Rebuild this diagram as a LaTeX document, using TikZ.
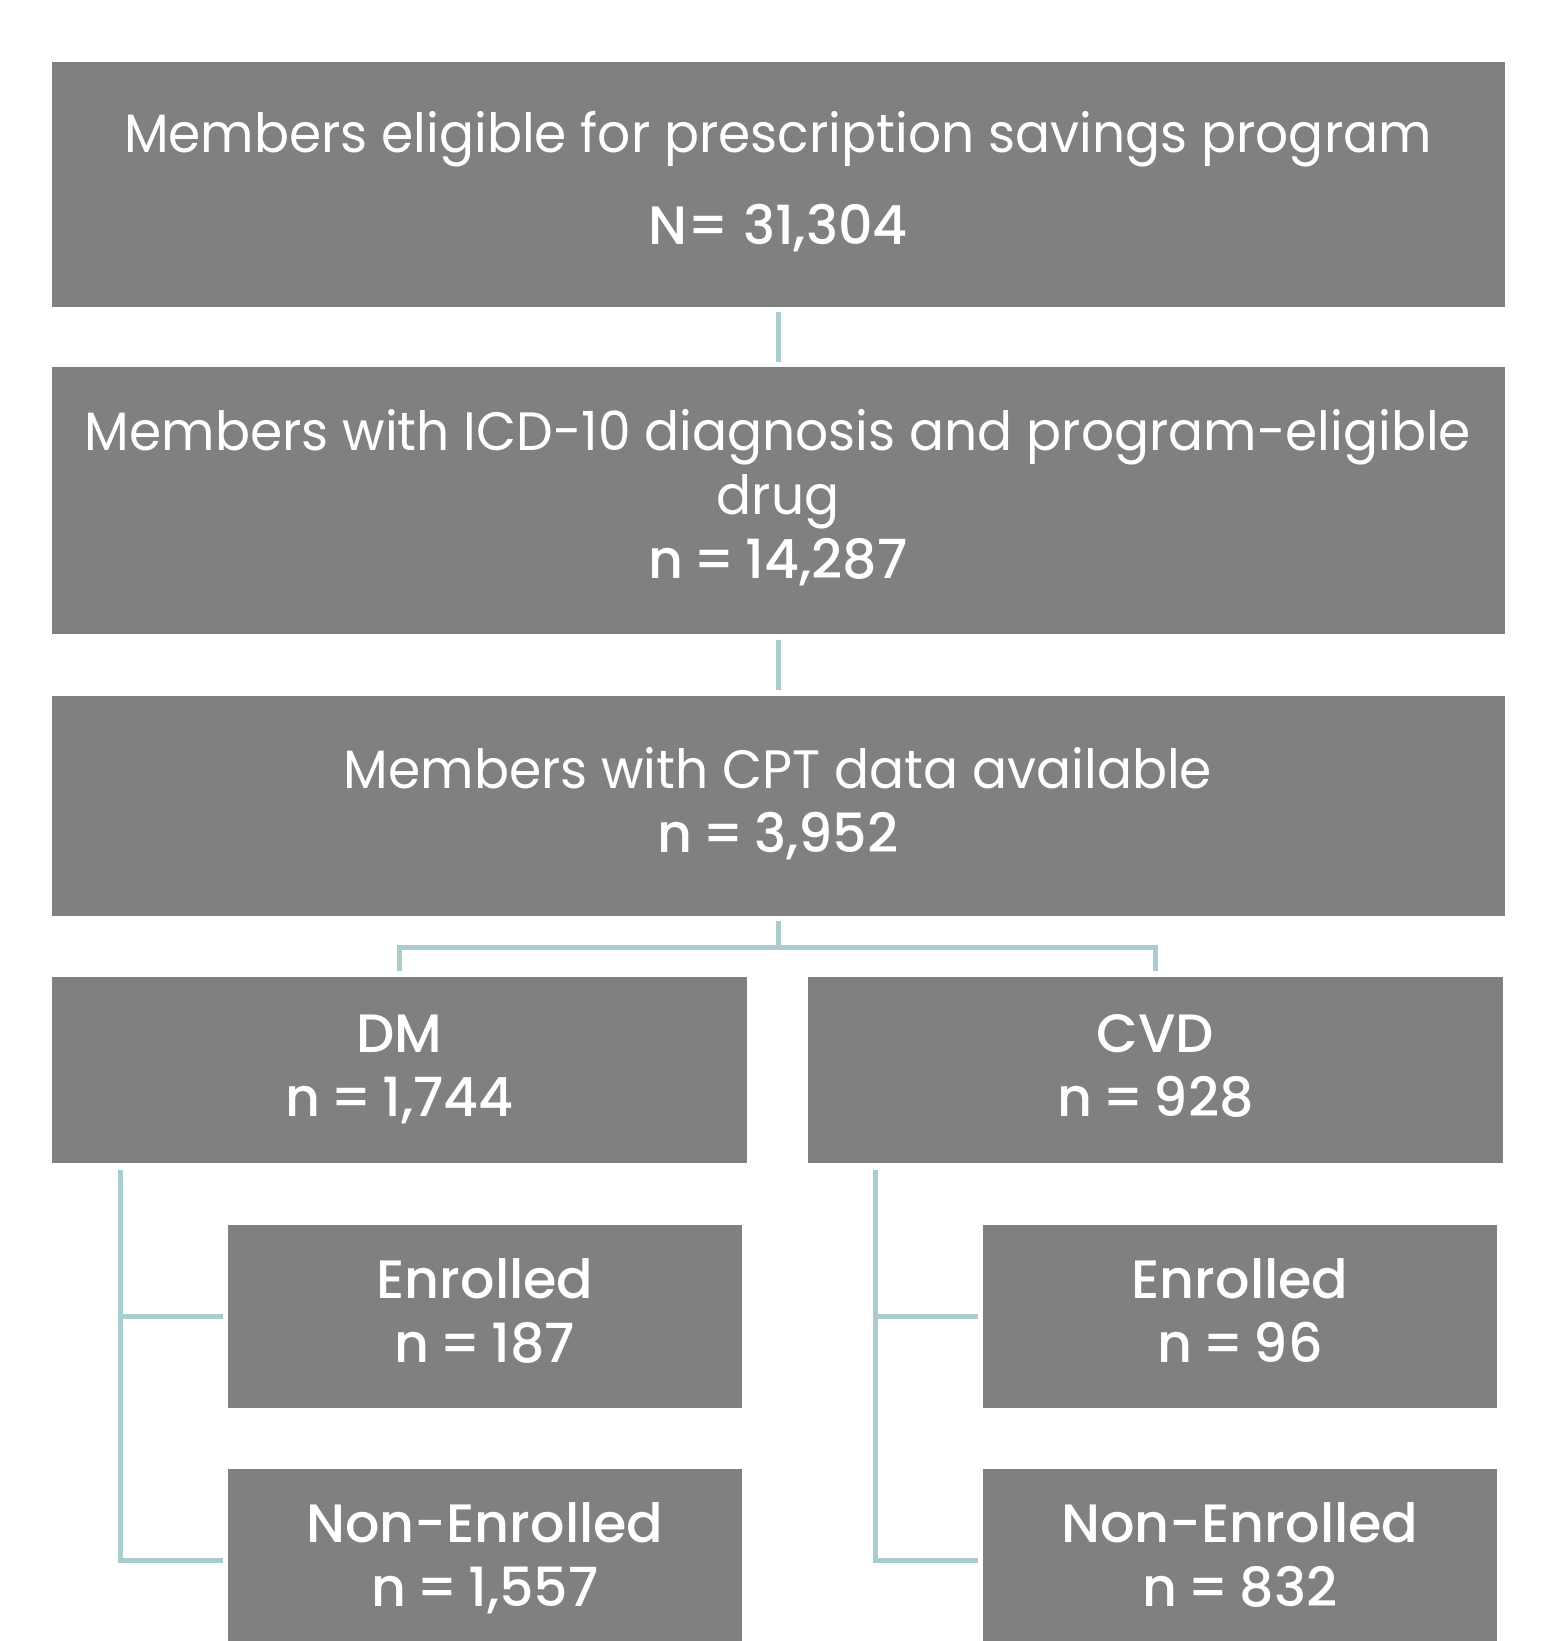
\documentclass[tikz,border=0pt]{standalone}
\usepackage{fontspec}
\setmainfont{Poppins}[UprightFeatures={FakeStretch=0.96}, BoldFont={Poppins Medium}, BoldFeatures={FakeStretch=1.0}]
\definecolor{boxgray}{HTML}{808080}
\definecolor{conncol}{HTML}{A9CDCF}
\newcommand\toprl{\rule{0pt}{50pt}}
\newcommand\botrl{\rule[-22pt]{0pt}{22pt}}
\newcommand\eqs{\hspace{10pt}=\hspace{10pt}}
\tikzset{
  box/.style={fill=boxgray, draw=none, text=white, align=center, inner sep=0pt,
    font=\fontsize{54}{64}\selectfont},
  conn/.style={draw=conncol, line width=5pt},
}
\begin{document}
\begin{tikzpicture}[x=1pt,y=-1pt]
\useasboundingbox (0,0) rectangle (1556,1641);
\clip (0,0) rectangle (1556,1641);
\node[box, minimum width=1453, minimum height=245] (b1) at (778,184.5)
  {\toprl Members eligible for prescription savings program\\[28pt]\textbf{N= 31,304}\botrl};
\node[box, minimum width=1453, minimum height=267] (b2) at (778,500.5)
  {\toprl Members with ICD-10 diagnosis and program-eligible\\drug\\\textbf{n\eqs 14,287}\botrl};
\node[box, minimum width=1453, minimum height=220] (b3) at (778,806)
  {\toprl Members with CPT data available\\\textbf{n\eqs 3,952}\botrl};
\node[box, minimum width=695, minimum height=186] (dm) at (399.5,1070)
  {\toprl\textbf{DM}\\\textbf{n\eqs 1,744}\botrl};
\node[box, minimum width=695, minimum height=186] (cvd) at (1155.5,1070)
  {\toprl\textbf{CVD}\\\textbf{n\eqs 928}\botrl};
\node[box, minimum width=514, minimum height=183] (en1) at (485,1316.5)
  {\toprl\textbf{Enrolled}\\\textbf{n\eqs 187}\botrl};
\node[box, minimum width=514, minimum height=183] (ne1) at (485,1560.5)
  {\toprl\textbf{Non-Enrolled}\\\textbf{n\eqs 1,557}\botrl};
\node[box, minimum width=514, minimum height=183] (en2) at (1240,1316.5)
  {\toprl\textbf{Enrolled}\\\textbf{n\eqs 96}\botrl};
\node[box, minimum width=514, minimum height=183] (ne2) at (1240,1560.5)
  {\toprl\textbf{Non-Enrolled}\\\textbf{n\eqs 832}\botrl};
% connectors
\draw[conn, shorten <=5pt, shorten >=5pt] (b1) -- (b2);
\draw[conn, shorten <=6pt, shorten >=6pt] (b2) -- (b3);
\coordinate (split) at (778,947);
\draw[conn] ([yshift=-5pt]b3.south) -- (split);
\draw[conn] ([yshift=6pt]dm.north) |- (split) -| ([yshift=6pt]cvd.north);
\coordinate (ltop) at (120,1170);
\coordinate (rtop) at (875,1170);
\draw[conn] (ltop) |- ([xshift=-5pt]en1.west);
\draw[conn] (ltop) |- ([xshift=-5pt]ne1.west);
\draw[conn] (rtop) |- ([xshift=-5pt]en2.west);
\draw[conn] (rtop) |- ([xshift=-5pt]ne2.west);
\end{tikzpicture}
\end{document}
